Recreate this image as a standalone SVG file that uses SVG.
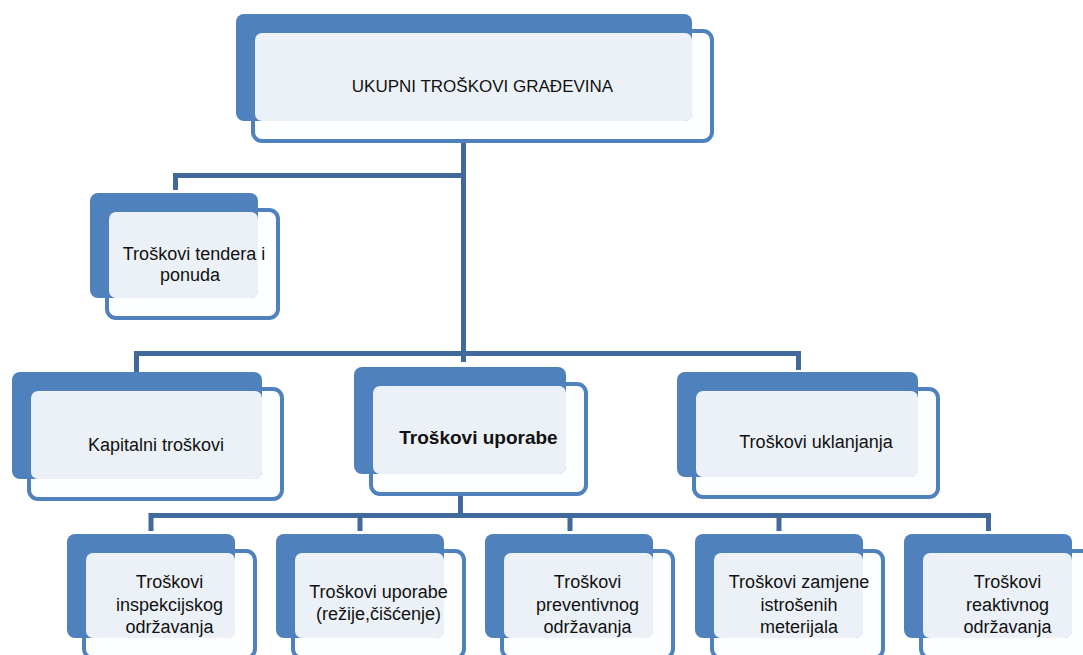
<svg xmlns="http://www.w3.org/2000/svg" width="1083" height="655" viewBox="0 0 1083 655">
<style>
.bk{fill:#4F81BD}
.ol{fill:#FDFEFF;stroke:#4F81BD;stroke-width:4}
.lt{fill:#ECF1F8}
.cn{fill:none;stroke:#41699C;stroke-width:5;stroke-linejoin:miter}
text{font-family:"Liberation Sans",Arial,sans-serif;font-size:18px;fill:#111;text-anchor:middle}
.t17{font-size:17px}
.b{font-weight:bold;font-size:19px}
</style>
<rect width="1083" height="655" fill="#FFFFFF"/>
<g id="connectors">
<path class="cn" d="M463.5 140 V362" stroke-width="6"/>
<path class="cn" d="M463.5 175.5 H175.5 V190"/>
<path class="cn" d="M136.5 373 V353.5 H798.5 V370"/>
<path class="cn" d="M460.5 494 V515.5"/>
<path class="cn" d="M151 531 V515.5 H988.5 V531"/>
<path class="cn" d="M360 515.5 V531 M570 515.5 V531 M779 515.5 V531"/>
</g>
<g id="n-top">
<rect class="ol" x="253" y="31" width="459" height="110" rx="9"/>
<rect class="bk" x="236" y="14" width="456" height="107" rx="8"/>
<rect class="lt" x="255" y="33" width="437" height="88" rx="7"/>
<text class="t17" x="482.5" y="92">UKUPNI TROŠKOVI GRAĐEVINA</text>
</g>
<g id="n-tender">
<rect class="ol" x="107" y="210" width="171" height="108" rx="9"/>
<rect class="bk" x="90" y="193" width="168" height="105" rx="8"/>
<rect class="lt" x="109" y="212" width="149" height="86" rx="7"/>
<text x="194" y="260">Troškovi tendera i</text>
<text x="190" y="281">ponuda</text>
</g>
<g id="n-kapitalni">
<rect class="ol" x="29" y="389" width="253" height="110" rx="9"/>
<rect class="bk" x="12" y="372" width="250" height="107" rx="8"/>
<rect class="lt" x="31" y="391" width="231" height="88" rx="7"/>
<text x="156" y="451">Kapitalni troškovi</text>
</g>
<g id="n-uporabe">
<rect class="ol" x="371" y="384" width="215" height="110" rx="9"/>
<rect class="bk" x="354" y="367" width="212" height="107" rx="8"/>
<rect class="lt" x="373" y="386" width="193" height="88" rx="7"/>
<text class="b" x="478.5" y="444">Troškovi uporabe</text>
</g>
<g id="n-uklanjanja">
<rect class="ol" x="694" y="389" width="244" height="108" rx="9"/>
<rect class="bk" x="677" y="372" width="241" height="105" rx="8"/>
<rect class="lt" x="696" y="391" width="222" height="86" rx="7"/>
<text x="816" y="448">Troškovi uklanjanja</text>
</g>
<g id="n-inspekcijskog">
<rect class="ol" x="84" y="551" width="171" height="107" rx="9"/>
<rect class="bk" x="67" y="534" width="168" height="104" rx="8"/>
<rect class="lt" x="86" y="553" width="149" height="85" rx="7"/>
<text x="169.5" y="588">Troškovi</text>
<text x="169.5" y="610.5">inspekcijskog</text>
<text x="169.5" y="633">održavanja</text>
</g>
<g id="n-rezije">
<rect class="ol" x="293" y="551" width="171" height="107" rx="9"/>
<rect class="bk" x="276" y="534" width="168" height="104" rx="8"/>
<rect class="lt" x="295" y="553" width="149" height="85" rx="7"/>
<text x="378.5" y="598">Troškovi uporabe</text>
<text x="378.5" y="620">(režije,čišćenje)</text>
</g>
<g id="n-preventivnog">
<rect class="ol" x="502" y="551" width="171" height="107" rx="9"/>
<rect class="bk" x="485" y="534" width="168" height="104" rx="8"/>
<rect class="lt" x="504" y="553" width="149" height="85" rx="7"/>
<text x="587.5" y="588">Troškovi</text>
<text x="587.5" y="610.5">preventivnog</text>
<text x="587.5" y="633">održavanja</text>
</g>
<g id="n-zamjene">
<rect class="ol" x="712" y="551" width="171" height="107" rx="9"/>
<rect class="bk" x="695" y="534" width="168" height="104" rx="8"/>
<rect class="lt" x="714" y="553" width="149" height="85" rx="7"/>
<text x="799" y="588">Troškovi zamjene</text>
<text x="799" y="610.5">istrošenih</text>
<text x="799" y="633">meterijala</text>
</g>
<g id="n-reaktivnog">
<rect class="ol" x="921" y="551" width="171" height="107" rx="9"/>
<rect class="bk" x="904" y="534" width="168" height="104" rx="8"/>
<rect class="lt" x="923" y="553" width="149" height="85" rx="7"/>
<text x="1007.5" y="588">Troškovi</text>
<text x="1007.5" y="610.5">reaktivnog</text>
<text x="1007.5" y="633">održavanja</text>
</g>
</svg>
